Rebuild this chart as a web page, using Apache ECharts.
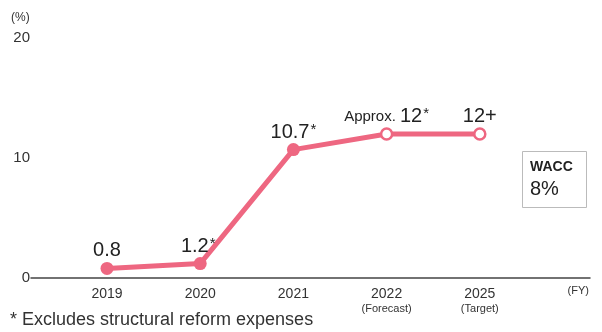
<!DOCTYPE html>
<html><head><meta charset="utf-8">
<script src="https://cdn.jsdelivr.net/npm/echarts@6/dist/echarts.min.js"></script>
<style>html,body{margin:0;padding:0;background:#fff}#c{width:602px;height:332px}</style>
</head><body><div id="c"></div>
<script>
var categories = ['2019', '2020', '2021', '2022', '2025'];
var subLabels = ['', '', '', '(Forecast)', '(Target)'];
var values = [0.8, 1.2, 10.7, 12, 12];
var prefixes = ['', '', '', 'Approx. ', ''];
var suffixes = ['', '*', '*', '*', '+'];
var hollow = [false, false, false, true, true];
var yTicks = [0, 10, 20];
var footnote = '* Excludes structural reform expenses';
var waccTitle = 'WACC';
var waccValue = '8%';

var FONT = '"Liberation Sans", Arial, sans-serif';
var PINK = '#ee6781';
var xPos = categories.map(function (c, i) { return i + 1; });

var data = values.map(function (v, i) {
  return {
    value: [xPos[i], v],
    symbol: 'circle',
    symbolSize: hollow[i] ? 11 : 13,
    itemStyle: hollow[i] ? { color: '#fff', borderColor: PINK, borderWidth: 2.5 } : { color: PINK, borderWidth: 0 },
    label: {
      show: true,
      position: 'top',
      distance: 1,
      offset: i === 1 ? [-2, 0] : [0, 0],
      formatter: function () {
        var s = '';
        if (prefixes[i]) s += '{p|' + prefixes[i] + '}';
        s += '{v|' + values[i] + '}';
        if (suffixes[i] === '*') s += '{a|*}';
        else if (suffixes[i]) s += '{v|' + suffixes[i] + '}';
        return s;
      },
      rich: {
        p: { fontSize: 15, color: '#222', fontFamily: FONT, verticalAlign: 'bottom', padding: [0, 0, 2, 0] },
        v: { fontSize: 20, color: '#222', fontFamily: FONT },
        a: { fontSize: 15, color: '#222', fontFamily: FONT, verticalAlign: 'top', padding: [0, 0, 0, 1] }
      }
    }
  };
});

var chart = echarts.init(document.getElementById('c'), null, { renderer: 'canvas' });
chart.setOption({
  animation: false,
  grid: { left: 31, right: 12, top: 38, bottom: 54, containLabel: false },
  xAxis: {
    type: 'value',
    min: 1 - 76 / 93.2,
    max: 1 + 483 / 93.2,
    splitLine: { show: false },
    axisLine: { show: true, onZero: false, lineStyle: { color: '#444', width: 1.5 } },
    axisTick: { show: false },
    axisLabel: {
      customValues: xPos,
      showMinLabel: true,
      showMaxLabel: true,
      margin: 8,
      formatter: function (v) {
        var i = Math.round(v) - 1;
        if (i < 0 || i >= categories.length) return '';
        return subLabels[i] ? '{c|' + categories[i] + '}\n{s|' + subLabels[i] + '}' : '{c|' + categories[i] + '}';
      },
      rich: {
        c: { fontSize: 14, color: '#333', fontFamily: FONT, lineHeight: 16 },
        s: { fontSize: 11, color: '#333', fontFamily: FONT, lineHeight: 13 }
      }
    },
    name: '(FY)',
    nameLocation: 'end',
    nameGap: -1,
    nameTextStyle: { fontSize: 11, color: '#333', fontFamily: FONT, align: 'right', verticalAlign: 'top', padding: [7, 0, 0, 0] }
  },
  yAxis: {
    type: 'value',
    min: 0, max: 20, interval: 10,
    splitLine: { show: false },
    axisLine: { show: false },
    axisTick: { show: false },
    axisLabel: {
      customValues: yTicks,
      margin: 1,
      fontSize: 15, color: '#333', fontFamily: FONT
    },
    name: '(%)',
    nameLocation: 'end',
    nameGap: 14,
    nameTextStyle: { fontSize: 12, color: '#333', fontFamily: FONT, align: 'left', padding: [0, 0, 0, -20] }
  },
  series: [{
    type: 'line',
    data: data,
    lineStyle: { color: PINK, width: 5 },
    itemStyle: { color: PINK },
    z: 3
  }],
  graphic: [
    {
      type: 'rect', left: 522, top: 151,
      shape: { width: 64, height: 56 },
      style: { fill: '#fff', stroke: '#bbb', lineWidth: 1 }
    },
    {
      type: 'text', left: 530, top: 160,
      style: { text: waccTitle, fill: '#222', font: 'bold 14px ' + FONT }
    },
    {
      type: 'text', left: 530, top: 179,
      style: { text: waccValue, fill: '#222', font: '20px ' + FONT }
    },
    {
      type: 'text', left: 10, top: 311,
      style: { text: footnote, fill: '#333', font: '18px ' + FONT }
    }
  ]
});
</script></body></html>
